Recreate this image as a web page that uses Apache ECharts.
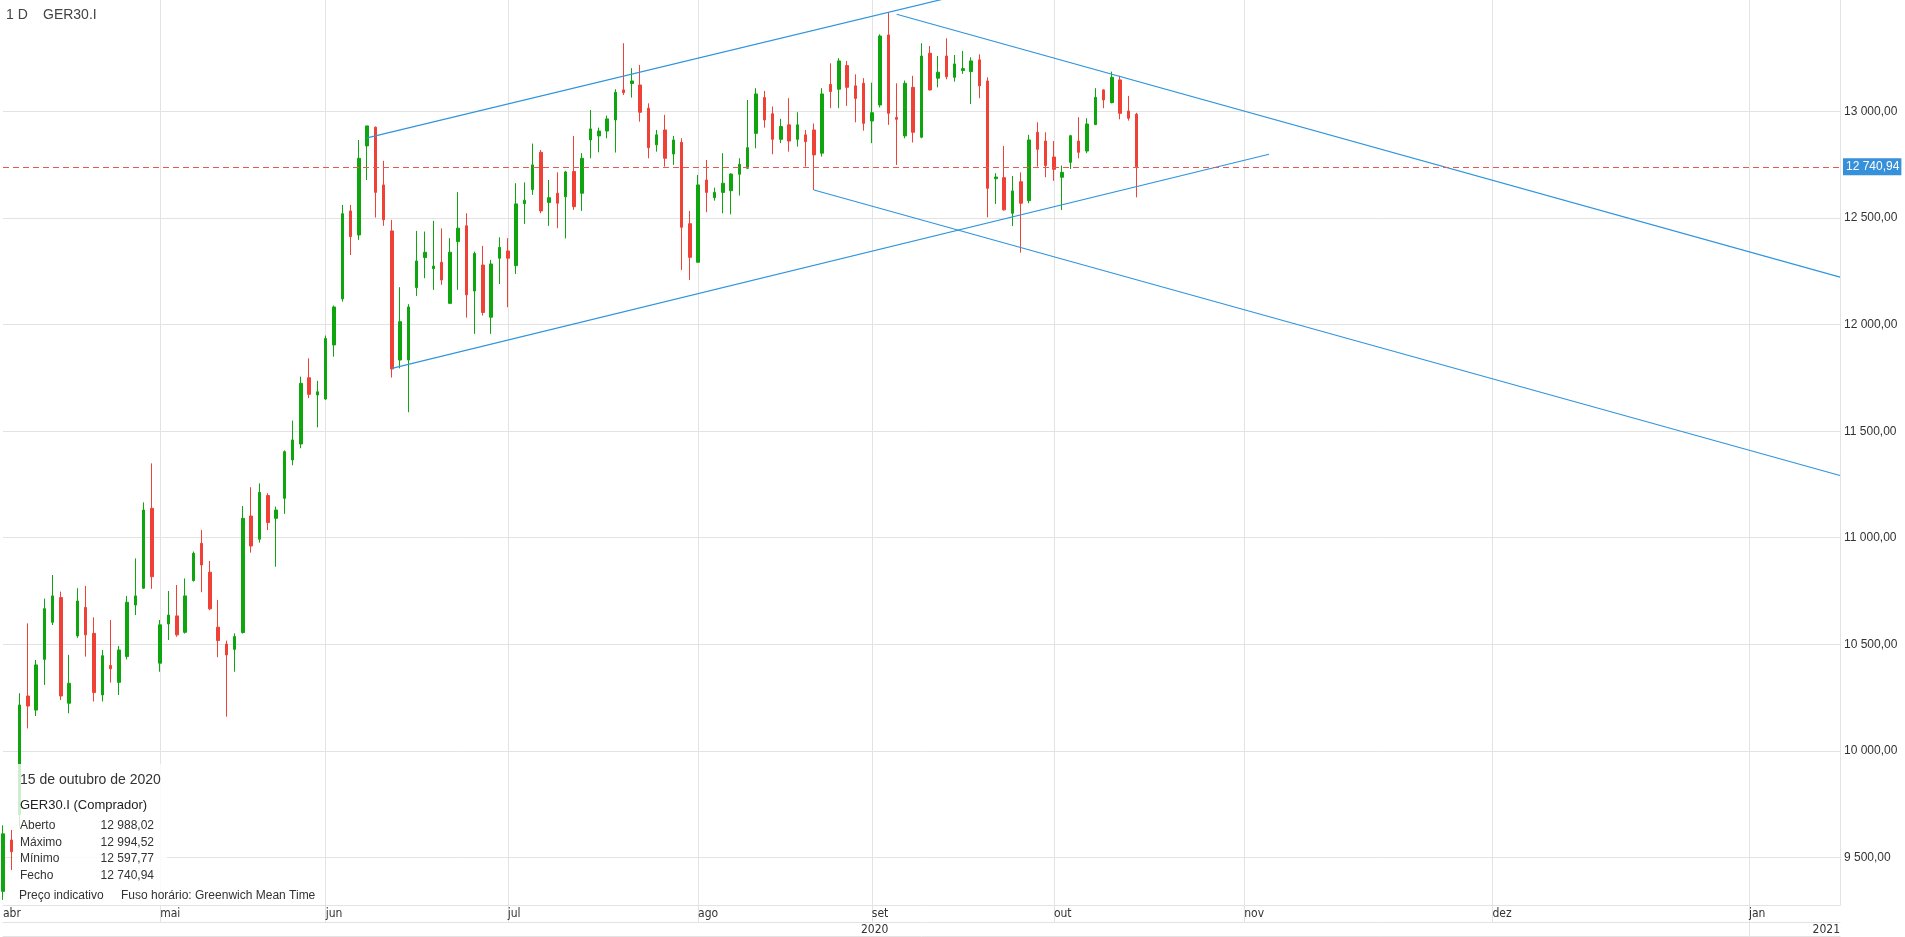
<!DOCTYPE html>
<html>
<head>
<meta charset="utf-8">
<title>GER30.I - 1 D</title>
<script src="https://cdn.jsdelivr.net/npm/echarts@6/dist/echarts.min.js"></script>
<style>
html, body { margin: 0; padding: 0; background: #fff; }
#chart { width: 1905px; height: 937px; }
</style>
</head>
<body>
<div id="chart"></div>
<script>
// velas diárias GER30.I (2 abr - 15 out 2020)
var opens = [9340, 9581, 9700, 10257, 10191, 10429, 10603, 10719, 10223, 10539,
    10673, 10551, 10262, 10400, 10321, 10442, 10684, 10763, 11138, 10411,
    10595, 10633, 10556, 10799, 10974, 10838, 10580, 10501, 10476, 10555,
    11102, 10993, 11198, 11091, 11185, 11365, 11440, 11751, 11670, 11651,
    11905, 12121, 12534, 12421, 12839, 12927, 12656, 12440, 11834, 11834,
    12174, 12315, 12263, 12293, 12100, 12390, 12464, 12158, 12280, 12035,
    12312, 12346, 12277, 12568, 12634, 12809, 12574, 12617, 12600, 12719,
    12617, 12867, 12886, 12909, 12961, 13102, 13132, 13125, 13016, 12844,
    12914, 12801, 12856, 12474, 12293, 12679, 12596, 12621, 12629, 12706,
    12734, 12898, 13066, 12990, 12870, 12938, 12870, 12891, 12914, 12805,
    13128, 13105, 13216, 13121, 13133, 12956, 13031, 13360, 12973, 12886,
    13114, 12880, 13274, 13157, 13261, 13161, 13193, 13188, 13243, 13144,
    12685, 12690, 12523, 12671, 12582, 12903, 12862, 12787, 12692, 12762,
    12862, 12815, 12939, 13102, 13042, 13149, 13003, 12988.02];
var closes = [9610, 9526, 10215, 10210, 10403, 10667, 10727, 10257, 10317, 10703,
    10544, 10273, 10446, 10385, 10473, 10697, 10727, 11130, 10817, 10591,
    10637, 10544, 10727, 10927, 10872, 10666, 10517, 10450, 10536, 11091,
    10961, 11213, 11071, 11130, 11404, 11459, 11725, 11673, 11685, 11935,
    12083, 12521, 12413, 12781, 12933, 12621, 12492, 11792, 12014, 12083,
    12299, 12340, 12275, 12210, 12340, 12453, 12140, 12334, 12057, 12285,
    12363, 12312, 12567, 12584, 12750, 12534, 12596, 12570, 12717, 12554,
    12781, 12919, 12909, 12966, 13091, 13089, 13144, 12997, 12831, 12891,
    12781, 12867, 12457, 12316, 12656, 12621, 12621, 12664, 12707, 12753,
    12831, 13083, 12961, 12870, 12930, 12862, 12938, 12859, 12797, 13083,
    13094, 13238, 13114, 13062, 12945, 12995, 13355, 12992, 12964, 13133,
    12903, 13261, 13102, 13185, 13164, 13224, 13202, 13238, 13121, 12640,
    12693, 12539, 12628, 12570, 12867, 12823, 12747, 12729, 12715, 12887,
    12809, 12942, 13067, 13055, 13161, 12992, 12969, 12740.94];
var lows = [9300, 9440, 9640, 10105, 10163, 10309, 10590, 10238, 10176, 10530,
    10442, 10231, 10231, 10320, 10262, 10429, 10637, 10760, 10760, 10371,
    10520, 10535, 10550, 10794, 10744, 10660, 10439, 10160, 10371, 10550,
    10930, 10977, 11036, 10864, 11112, 11340, 11420, 11655, 11518, 11647,
    11850, 12108, 12327, 12398, 12679, 12503, 12464, 11752, 11795, 11589,
    12135, 12218, 12163, 12187, 12100, 12163, 12033, 11957, 12043, 11957,
    12191, 12082, 12238, 12473, 12609, 12523, 12464, 12453, 12405, 12539,
    12534, 12781, 12809, 12875, 12808, 13078, 13066, 12953, 12781, 12812,
    12742, 12750, 12257, 12210, 12293, 12528, 12582, 12523, 12518, 12606,
    12731, 12828, 12925, 12800, 12852, 12812, 12836, 12742, 12632, 12789,
    13016, 13016, 13027, 12950, 12911, 12852, 13020, 12938, 12750, 12875,
    12855, 12875, 13099, 13114, 13152, 13141, 13177, 13036, 13063, 12504,
    12567, 12535, 12463, 12338, 12570, 12742, 12692, 12675, 12538, 12731,
    12781, 12805, 12938, 13016, 13039, 12964, 12958, 12597.77];
var highs = [9650, 9628, 10270, 10598, 10426, 10714, 10825, 10747, 10450, 10763,
    10774, 10626, 10473, 10614, 10492, 10727, 10903, 11166, 11349, 10614,
    10750, 10778, 10809, 10935, 11036, 10891, 10708, 10517, 10551, 11149,
    11237, 11255, 11209, 11146, 11410, 11550, 11756, 11842, 11736, 11949,
    12090, 12562, 12562, 12867, 12933, 12930, 12769, 12492, 12176, 12096,
    12440, 12437, 12487, 12452, 12406, 12622, 12523, 12343, 12370, 12304,
    12410, 12406, 12664, 12668, 12850, 12820, 12679, 12715, 12722, 12886,
    12805, 13008, 12925, 12981, 13105, 13321, 13204, 13219, 13039, 12914,
    12985, 12886, 12875, 12534, 12703, 12773, 12643, 12805, 12711, 12781,
    13055, 13110, 13097, 13024, 12966, 13063, 12997, 12914, 12944, 13110,
    13227, 13251, 13238, 13175, 13157, 13136, 13363, 13466, 13133, 13146,
    13168, 13321, 13308, 13261, 13344, 13266, 13285, 13255, 13269, 13161,
    12711, 12839, 12698, 12715, 12891, 12950, 12903, 12862, 12747, 12891,
    12974, 12969, 13110, 13105, 13188, 13168, 13074, 12994.52];

// dias futuros à direita (até início de jan 2021)
var futureSlots = 85;

// meses no eixo x (índice do primeiro dia) e anos
var monthIdx = [0, 19, 39, 61, 84, 105, 127, 150, 180, 211];
var monthNames = ['abr', 'mai', 'jun', 'jul', 'ago', 'set', 'out', 'nov', 'dez', 'jan'];
var yearIdx = [107, 222];
var yearNames = ['2020', '2021'];
var yearBreak = 211;

// eixo de preço
var priceTicks = [9500, 10000, 10500, 11000, 11500, 12000, 12500, 13000];
var priceMin = 9276;
var priceMax = 13524;

// linhas de tendência desenhadas [índice, preço]
var channelUp = [[44, 12877], [115, 13541]];
var channelLow = [[47, 11795], [153, 12800]];
var downUpper = [[108, 13457], [222, 12223]];
var downLower = [[98, 12632], [222, 11292]];

var lastIdx = opens.length - 1;

function fmt(v) {
    var p = Number(v).toFixed(2).split('.');
    return p[0].replace(/\B(?=(\d{3})+(?!\d))/g, ' ') + ',' + p[1];
}

var cats = [];
for (var i = 0; i < opens.length + futureSlots; i++) cats.push(i);

var candles = [];
for (var j = 0; j < opens.length; j++) {
    candles.push([opens[j], closes[j], lows[j], highs[j]]);
}

var gridColor = '#e3e3e3';
var txt = '#333';
var baseFont = '"Liberation Sans", Arial, sans-serif';
var narrowFont = '"Liberation Sans Narrow", "DejaVu Sans Condensed", sans-serif';
var trendStyle = { color: '#2f95dd', width: 1.2 };

function isMonthLine(i) { return i > 0 && monthIdx.indexOf(i) >= 0; }

var chart = echarts.init(document.getElementById('chart'));
var option = {
    animation: false,
    backgroundColor: '#fff',
    textStyle: { fontFamily: baseFont },
    grid: { left: 0, right: 65, top: 0, bottom: 32 },
    xAxis: [
        {
            type: 'category',
            data: cats,
            boundaryGap: false,
            position: 'bottom',
            axisLine: { lineStyle: { color: gridColor } },
            axisTick: { show: true, length: 17, interval: isMonthLine, lineStyle: { color: gridColor } },
            axisLabel: {
                interval: function (i) { return monthIdx.indexOf(i) >= 0; },
                formatter: function (v, i) { return monthNames[monthIdx.indexOf(i)]; },
                align: 'left',
                margin: 3,
                color: txt,
                fontSize: 12,
                fontFamily: narrowFont
            },
            splitLine: { show: true, interval: isMonthLine, lineStyle: { color: gridColor } }
        },
        {
            type: 'category',
            data: cats,
            boundaryGap: false,
            position: 'bottom',
            offset: 17,
            axisLine: { lineStyle: { color: gridColor } },
            axisTick: { show: true, length: 15, interval: function (i) { return i === yearBreak; }, lineStyle: { color: gridColor } },
            axisLabel: {
                interval: function (i) { return yearIdx.indexOf(i) >= 0; },
                formatter: function (v, i) { return yearNames[yearIdx.indexOf(i)]; },
                align: 'right',
                margin: 2,
                color: txt,
                fontSize: 12,
                fontFamily: narrowFont
            },
            splitLine: { show: false }
        },
        {
            type: 'category',
            data: cats,
            boundaryGap: false,
            position: 'bottom',
            offset: 31,
            axisLine: { lineStyle: { color: gridColor } },
            axisTick: { show: false },
            axisLabel: { show: false },
            splitLine: { show: false }
        }
    ],
    yAxis: {
        type: 'value',
        position: 'right',
        min: priceMin,
        max: priceMax,
        axisLine: { show: true, lineStyle: { color: gridColor } },
        axisTick: { show: false, customValues: priceTicks },
        axisLabel: {
            customValues: priceTicks,
            formatter: fmt,
            margin: 4,
            color: txt,
            fontSize: 12
        },
        splitLine: { show: true, lineStyle: { color: gridColor } }
    },
    series: [
        {
            type: 'candlestick',
            data: candles,
            barWidth: 3,
            itemStyle: {
                color: '#0ea50e',
                color0: '#ef4136',
                borderColor: '#0ea50e',
                borderColor0: '#ef4136',
                borderWidth: 1
            },
            markLine: {
                silent: true,
                symbol: ['none', 'none'],
                data: [{ yAxis: closes[lastIdx] }],
                lineStyle: { color: '#e9574f', type: [6, 4], width: 1 },
                label: {
                    position: 'end',
                    formatter: fmt(closes[lastIdx]),
                    color: '#fff',
                    backgroundColor: '#3790da',
                    padding: [3, 2, 2, 3],
                    distance: 3,
                    fontSize: 12
                }
            },
            z: 2
        },
        { type: 'line', data: channelUp, symbol: 'none', silent: true, lineStyle: trendStyle, z: 3 },
        { type: 'line', data: channelLow, symbol: 'none', silent: true, lineStyle: trendStyle, z: 3 },
        { type: 'line', data: downUpper, symbol: 'none', silent: true, lineStyle: trendStyle, z: 3 },
        { type: 'line', data: downLower, symbol: 'none', silent: true, lineStyle: trendStyle, z: 3 }
    ],
    graphic: [
        { type: 'text', x: 6, y: 15, z: 100, style: { text: '1 D', fontSize: 14, fontFamily: baseFont, fill: '#444', verticalAlign: 'middle' } },
        { type: 'text', x: 43, y: 15, z: 100, style: { text: 'GER30.I', fontSize: 14, fontFamily: baseFont, fill: '#444', verticalAlign: 'middle' } },
        // caixa de informação da última vela
        { type: 'rect', x: 13, y: 764, z: 100, shape: { width: 154, height: 141 }, style: { fill: 'rgba(255,255,255,0.8)' } },
        { type: 'rect', x: 167, y: 887, z: 100, shape: { width: 158, height: 18 }, style: { fill: 'rgba(255,255,255,0.8)' } },
        { type: 'text', x: 20, y: 780, z: 101, style: { text: '15 de outubro de 2020', fontSize: 14, fontFamily: baseFont, fill: '#333', verticalAlign: 'middle' } },
        { type: 'text', x: 20, y: 805, z: 101, style: { text: 'GER30.I (Comprador)', fontSize: 13, fontFamily: baseFont, fill: '#222', verticalAlign: 'middle' } },
        { type: 'text', x: 20, y: 826, z: 101, style: { text: 'Aberto', fontSize: 12, fontFamily: baseFont, fill: '#333', verticalAlign: 'middle' } },
        { type: 'text', x: 20, y: 843, z: 101, style: { text: 'Máximo', fontSize: 12, fontFamily: baseFont, fill: '#333', verticalAlign: 'middle' } },
        { type: 'text', x: 20, y: 859, z: 101, style: { text: 'Mínimo', fontSize: 12, fontFamily: baseFont, fill: '#333', verticalAlign: 'middle' } },
        { type: 'text', x: 20, y: 876, z: 101, style: { text: 'Fecho', fontSize: 12, fontFamily: baseFont, fill: '#333', verticalAlign: 'middle' } },
        { type: 'text', x: 154, y: 826, z: 101, style: { text: fmt(opens[lastIdx]), fontSize: 12, fontFamily: baseFont, fill: '#333', align: 'right', verticalAlign: 'middle' } },
        { type: 'text', x: 154, y: 843, z: 101, style: { text: fmt(highs[lastIdx]), fontSize: 12, fontFamily: baseFont, fill: '#333', align: 'right', verticalAlign: 'middle' } },
        { type: 'text', x: 154, y: 859, z: 101, style: { text: fmt(lows[lastIdx]), fontSize: 12, fontFamily: baseFont, fill: '#333', align: 'right', verticalAlign: 'middle' } },
        { type: 'text', x: 154, y: 876, z: 101, style: { text: fmt(closes[lastIdx]), fontSize: 12, fontFamily: baseFont, fill: '#333', align: 'right', verticalAlign: 'middle' } },
        { type: 'text', x: 19, y: 896, z: 101, style: { text: 'Preço indicativo', fontSize: 12, fontFamily: baseFont, fill: '#333', verticalAlign: 'middle' } },
        { type: 'text', x: 121, y: 896, z: 101, style: { text: 'Fuso horário: Greenwich Mean Time', fontSize: 12, fontFamily: baseFont, fill: '#333', verticalAlign: 'middle' } }
    ]
};
chart.setOption(option);
</script>
</body>
</html>
